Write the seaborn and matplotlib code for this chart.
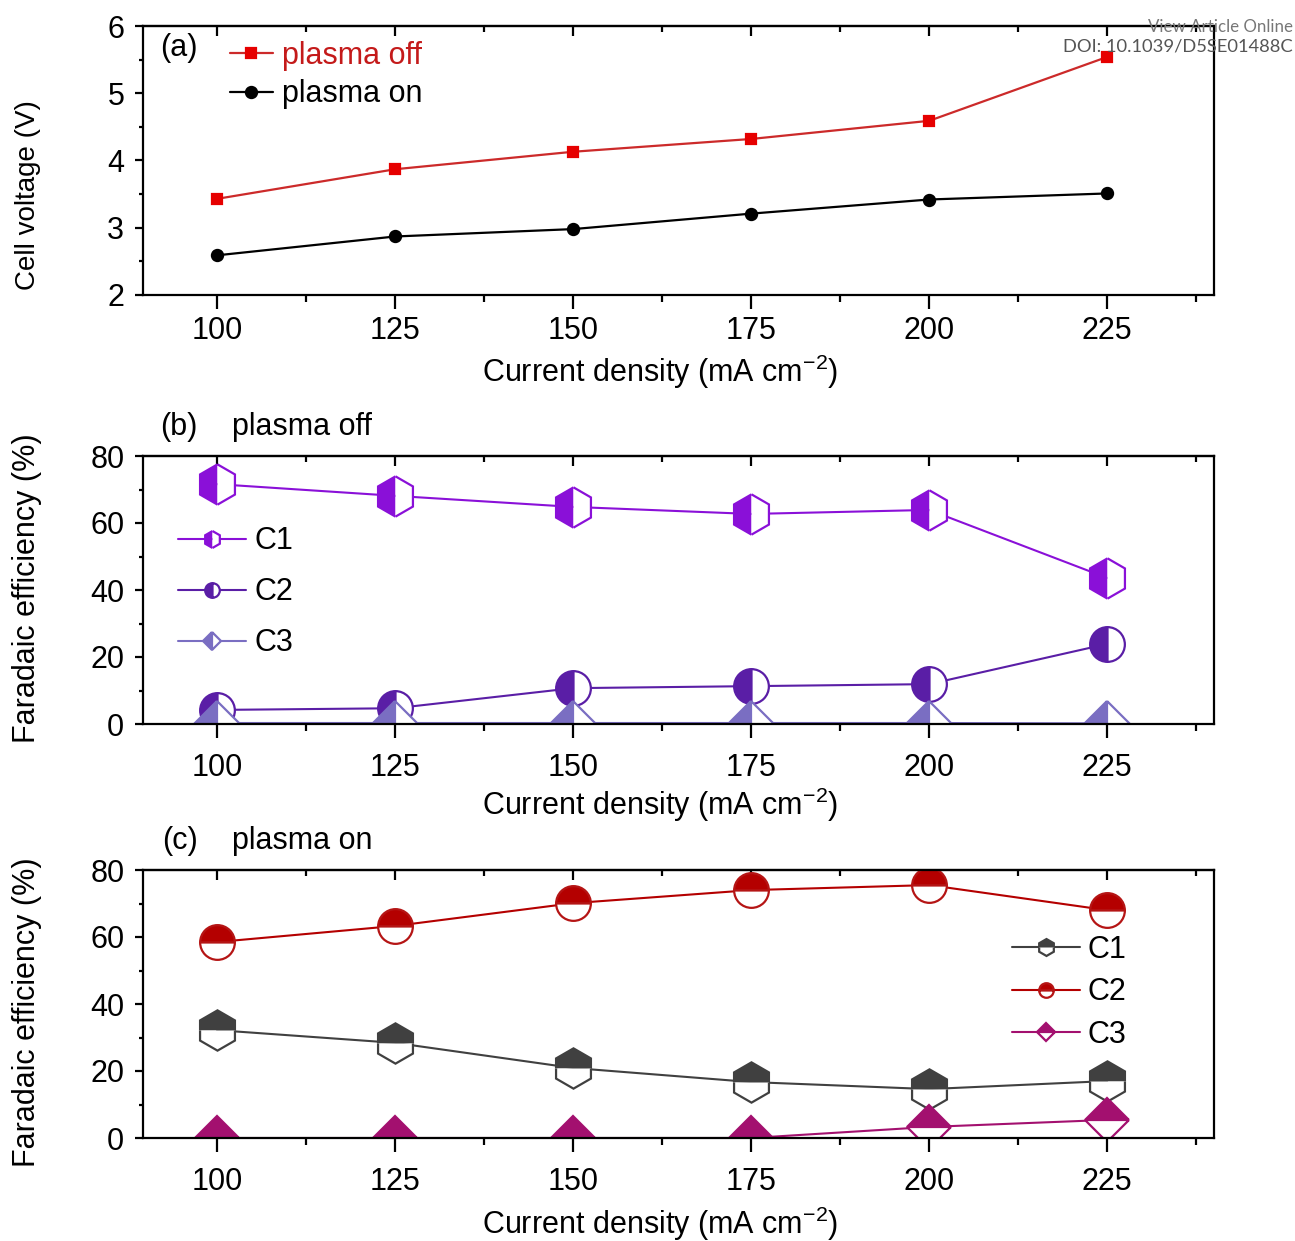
import matplotlib
matplotlib.use("Agg")
import matplotlib.pyplot as plt
from matplotlib.ticker import MultipleLocator
import seaborn as sns
import pandas as pd

# ---- data ----
current = [100, 125, 150, 175, 200, 225]
voltage_off = [3.43, 3.87, 4.13, 4.32, 4.59, 5.54]
voltage_on = [2.59, 2.87, 2.98, 3.21, 3.42, 3.51]

fe_off_c1 = [71.6, 68.1, 64.8, 62.7, 63.9, 43.6]
fe_off_c2 = [4.2, 4.7, 10.7, 11.3, 11.9, 23.9]
fe_off_c3 = [0.3, 0.3, 0.3, 0.3, 0.3, 0.2]

fe_on_c1 = [32.2, 28.4, 20.9, 16.7, 14.6, 17.0]
fe_on_c2 = [58.5, 63.3, 70.1, 74.0, 75.5, 68.0]
fe_on_c3 = [0.0, 0.0, 0.0, 0.0, 3.3, 5.4]

xticks = [100, 125, 150, 175, 200, 225]
xlabel = "Current density (mA cm$^{-2}$)"

sns.set_style("ticks")
plt.rcParams["font.family"] = ["Liberation Sans", "DejaVu Sans"]
plt.rcParams["mathtext.default"] = "regular"
plt.rcParams["text.color"] = "black"
plt.rcParams["axes.labelcolor"] = "black"
plt.rcParams["xtick.color"] = "black"
plt.rcParams["ytick.color"] = "black"
FS = 22

W, H = 1295, 1241
fig = plt.figure(figsize=(W / 100, H / 100), dpi=100)


def make_ax(top_px, bottom_px):
    left, right = 143, 1214
    return fig.add_axes([left / W, (H - bottom_px) / H, (right - left) / W, (bottom_px - top_px) / H])


def style_ax(ax, ylim, ymaj, ymin, xpad):
    ax.set_xlim(89.6, 240)
    ax.set_ylim(*ylim)
    ax.set_xticks(xticks)
    ax.xaxis.set_minor_locator(MultipleLocator(12.5))
    ax.yaxis.set_major_locator(MultipleLocator(ymaj))
    ax.yaxis.set_minor_locator(MultipleLocator(ymin))
    for s in ax.spines.values():
        s.set_visible(True)
        s.set_linewidth(1.6)
        s.set_color("black")
    ax.tick_params(axis="x", which="major", direction="out", length=10, width=1.6,
                   labelsize=FS, pad=xpad, colors="black")
    ax.tick_params(axis="x", which="minor", direction="out", length=5, width=1.6)
    ax.tick_params(axis="y", which="major", direction="out", length=5.5, width=1.6,
                   labelsize=FS, pad=8, colors="black")
    ax.tick_params(axis="y", which="minor", direction="out", length=3, width=1.6)
    sec = ax.secondary_xaxis("top")
    sec.set_xticks(xticks)
    sec.xaxis.set_minor_locator(MultipleLocator(12.5))
    sec.tick_params(axis="x", which="major", direction="in", length=7, width=1.6, labeltop=False)
    sec.tick_params(axis="x", which="minor", direction="in", length=4, width=1.6)
    sec.spines["top"].set_linewidth(1.6)
    ax.grid(False)


def line(ax, y, color, marker, ms, fill, label, mfc=None, mec=None, lw=1.5):
    df = pd.DataFrame({"x": current, "y": y})
    sns.lineplot(data=df, x="x", y="y", ax=ax, color=color, lw=lw, marker=marker,
                 markersize=ms, fillstyle=fill, markerfacecolor=mfc or color,
                 markerfacecoloralt="white", markeredgecolor=mec or color,
                 markeredgewidth=1.6, label=label, legend=False)


# ---- (a) ----
axa = make_ax(26, 295)
line(axa, voltage_off, "#cc2a2a", "s", 6.5, "full", "plasma off", mfc="#e60000", mec="#e60000", lw=1.6)
line(axa, voltage_on, "black", "o", 8, "full", "plasma on", lw=1.6)
style_ax(axa, (2, 6), 1, 0.5, 5)
axa.set_xlabel(xlabel, fontsize=FS)
axa.set_ylabel("Cell voltage (V)", fontsize=20)
axa.xaxis.set_label_coords(0.483, -0.215)
axa.yaxis.set_label_coords(-0.095, 0.372)
axa.text(0.016, 0.918, "(a)", transform=axa.transAxes, fontsize=FS, va="center", ha="left")
lega = axa.legend(loc="upper left", bbox_to_anchor=(0.081, 0.945), frameon=False, fontsize=FS,
                  handlelength=1.4, handletextpad=0.3, labelspacing=0.28,
                  borderpad=0, borderaxespad=0)
lega.get_texts()[0].set_color("#c41a1a")

# ---- (b) ----
axb = make_ax(456, 724)
line(axb, fe_off_c1, "#8a10d8", "h", 29, "left", "C1")
line(axb, fe_off_c2, "#5a1ea6", "o", 25, "left", "C2")
line(axb, fe_off_c3, "#7a6ec2", "D", 22, "left", "C3")
style_ax(axb, (0, 80), 20, 10, 11)
axb.set_xlabel(xlabel, fontsize=FS)
axb.set_ylabel("Faradaic efficiency (%)", fontsize=FS)
axb.xaxis.set_label_coords(0.483, -0.23)
axb.yaxis.set_label_coords(-0.094, 0.507)
axb.text(0.016, 1.108, "(b)", transform=axb.transAxes, fontsize=FS, va="center", ha="left")
axb.text(0.083, 1.108, "plasma off", transform=axb.transAxes, fontsize=FS, va="center", ha="left")
axb.legend(loc="upper left", bbox_to_anchor=(0.033, 0.738), frameon=False, fontsize=FS,
           handlelength=2.2, handletextpad=0.3, labelspacing=0.69, markerscale=0.42,
           borderpad=0, borderaxespad=0)

# ---- (c) ----
axc = make_ax(870, 1138)
line(axc, fe_on_c1, "#404040", "h", 29, "top", "C1")
line(axc, fe_on_c2, "#b40000", "o", 25, "top", "C2", mec="#b51515")
line(axc, fe_on_c3, "#a3106f", "D", 22, "top", "C3")
style_ax(axc, (0, 80), 20, 10, 11)
axc.set_xlabel(xlabel, fontsize=FS)
axc.set_ylabel("Faradaic efficiency (%)", fontsize=FS)
axc.xaxis.set_label_coords(0.483, -0.248)
axc.yaxis.set_label_coords(-0.094, 0.47)
axc.text(0.018, 1.108, "(c)", transform=axc.transAxes, fontsize=FS, va="center", ha="left")
axc.text(0.083, 1.108, "plasma on", transform=axc.transAxes, fontsize=FS, va="center", ha="left")
legc = axc.legend(loc="upper left", bbox_to_anchor=(0.811, 0.758), frameon=False, fontsize=FS,
                  handlelength=2.25, handletextpad=0.25, labelspacing=0.41, markerscale=0.42,
                  borderpad=0, borderaxespad=0)

# ---- watermark ----
fig.text(1293 / W, 1 - 27 / H, "View Article Online", ha="right", va="center",
         fontsize=12.2, color="#777777", family=["Lato", "DejaVu Sans"])
fig.text(1293 / W, 1 - 47 / H, "DOI: 10.1039/D5SE01488C", ha="right", va="center",
         fontsize=13.2, color="#555555", family=["Lato", "DejaVu Sans"])

fig.savefig("out.png", dpi=100)
